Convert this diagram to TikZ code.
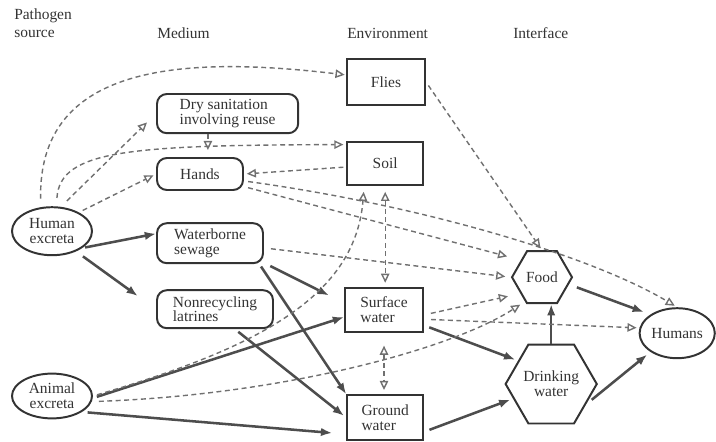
\documentclass[tikz,border=0pt]{standalone}
\usepackage{fontspec}
\setmainfont{Liberation Serif}
\usetikzlibrary{shapes.geometric,arrows.meta}

\definecolor{ink}{HTML}{333333}
\definecolor{flowgray}{HTML}{4D4D4D}
\definecolor{dashgray}{HTML}{707070}

\tikzset{
    head/.style={text=ink, inner sep=0pt, font=\fontsize{11}{10.5}\selectfont},
    box/.style={draw=ink, line width=1.4pt, text=ink, inner sep=0pt, font=\fontsize{11}{10.5}\selectfont},
    rbox/.style={box, rounded corners=7pt, align=left},
    sbox/.style={box, align=left},
    blob/.style={box, ellipse, align=center},
    hexa/.style={box, regular polygon, regular polygon sides=6, align=center},
    flow/.style={flowgray, line width=1.8pt, -{Latex[length=8pt,width=6pt]}},
    route/.style={dashgray, line width=1pt, dash pattern=on 3.5pt off 2.5pt,
        >={Triangle[open,length=6.5pt,width=6pt]}, ->},
    both/.style={route, <->}
}

\begin{document}
\begin{tikzpicture}
    \useasboundingbox (0,0) rectangle (17.9,-11.025);

    % Column titles
    \node[head, anchor=north west, align=left] (hsrc) at (0.35,-0.22) {Pathogen\\[2pt]source};
    \node[head, anchor=base west] (hmed) at (3.925,-0.96) {Medium};
    \node[head, anchor=base west] (henv) at (8.675,-0.96) {Environment};
    \node[head, anchor=base west] (hint) at (12.825,-0.96) {Interface};

    % Sources
    \node[blob, minimum width=2cm, minimum height=1.2cm] (hexcr) at (1.3,-5.78) {Human\\excreta};
    \node[blob, minimum width=2cm, minimum height=1.12cm] (aexcr) at (1.3,-9.9) {Animal\\excreta};

    % Media
    \node[rbox, minimum width=3.53cm, minimum height=0.98cm] (drysan) at (5.69,-2.84) {Dry sanitation\\involving reuse};
    \node[rbox, minimum width=2.15cm, minimum height=0.8cm] (hands) at (5.0,-4.35) {Hands};
    \node[rbox, minimum width=2.65cm, minimum height=1.0cm] (sewage) at (5.25,-6.08) {Waterborne\\sewage};
    \node[rbox, minimum width=2.9cm, minimum height=0.95cm] (latrines) at (5.375,-7.73) {Nonrecycling\\latrines};

    % Environment
    \node[sbox, minimum width=1.95cm, minimum height=1.15cm] (flies) at (9.65,-2.05) {Flies};
    \node[sbox, minimum width=1.9cm, minimum height=1.08cm] (soil) at (9.63,-4.09) {Soil};
    \node[sbox, minimum width=1.95cm, minimum height=1.1cm] (surface) at (9.6,-7.75) {Surface\\water};
    \node[sbox, minimum width=1.9cm, minimum height=1.12cm] (ground) at (9.63,-10.44) {Ground\\water};

    % Interface and humans
    \node[hexa, minimum size=1.5cm] (food) at (13.55,-6.93) {Food};
    \node[hexa, minimum size=1.95cm] (drink) at (13.78,-9.6) {Drinking\\water};
    \node[blob, minimum width=1.88cm, minimum height=1.25cm] (humans) at (16.93,-8.33) {Humans};

    % Main routes
    \draw[flow, shorten <=2pt] (hexcr.-29) -- (sewage.170);
    \draw[flow, shorten <=6pt, shorten >=16pt] (hexcr.-40) -- (latrines.west);
    \draw[flow, shorten <=5pt, shorten >=12pt] (sewage.-20) -- (surface.170);
    \draw[flow, shorten <=2pt] (sewage.-23) -- (ground.north west);
    \draw[flow, shorten <=3pt, shorten >=2pt] (latrines.-45) -- (ground.west);
    \draw[flow, shorten <=3pt] (aexcr.-3) -- (surface.190);
    \draw[flow, shorten <=4pt, shorten >=10pt] (aexcr.-28) -- (ground.203);
    \draw[flow, shorten <=4pt, shorten >=2pt] (surface.-21) -- (drink.145);
    \draw[flow, shorten <=4pt, shorten >=2pt] (ground.-20) -- (drink.201);
    \draw[flow] (drink.north) -- (drink.north |- food.south);
    \draw[flow, shorten <=6pt, shorten >=5pt] (food.-15) -- (humans.145);
    \draw[flow, shorten <=5pt, shorten >=3pt] (drink.-30) -- (humans.215);

    % Other routes
    \draw[route, shorten <=6pt, shorten >=1pt] (hexcr.115) .. controls (0.95,-1.63) and (4.5,-1.38) .. (flies.170);
    \draw[route, shorten <=6pt, shorten >=9pt] (hexcr.70) -- (drysan.west);
    \draw[route, shorten <=6pt, shorten >=2pt] (hexcr.80) .. controls (1.5,-3.75) and (3.25,-3.63) .. (soil.154);
    \draw[route, shorten <=3pt, shorten >=2pt] (hexcr.35) -- (hands.west);
    \draw[route, shorten >=5pt] (drysan.south -| hands.65) -- (hands.65);
    \draw[route, shorten <=2pt, shorten >=2pt] (soil.185) -- (hands.east);
    \draw[route, shorten <=3pt, shorten >=2pt] (hands.-9) .. controls (10.5,-5.13) and (14.75,-6.38) .. (humans.north);
    \draw[route, shorten <=3pt, shorten >=10pt] (hands.-16) -- (food.141);
    \draw[route, shorten <=5pt, shorten >=4pt] (sewage.-5) -- (food.west);
    \draw[route, shorten <=3pt, shorten >=2pt] (flies.east) -- (food.north);
    \draw[both, shorten <=4pt, shorten >=3pt] (soil.south) -- (soil.south |- surface.north);
    \draw[route, shorten <=3pt, shorten >=4pt] (aexcr.east) .. controls (6.25,-8.75) and (8.875,-7.5) .. (soil.-133);
    \draw[route, shorten <=5pt, shorten >=4pt] (aexcr.-8) .. controls (7.0,-9.875) and (11.25,-8.75) .. (food.235);
    \draw[route, shorten <=5pt, shorten >=9pt] (surface.-7) -- (food.-143);
    \draw[route, shorten <=5pt, shorten >=2pt] (surface.-13) -- (humans.172);
    \draw[both, shorten <=9pt, shorten >=3pt] (surface.south) -- (surface.south |- ground.north);
\end{tikzpicture}
\end{document}
